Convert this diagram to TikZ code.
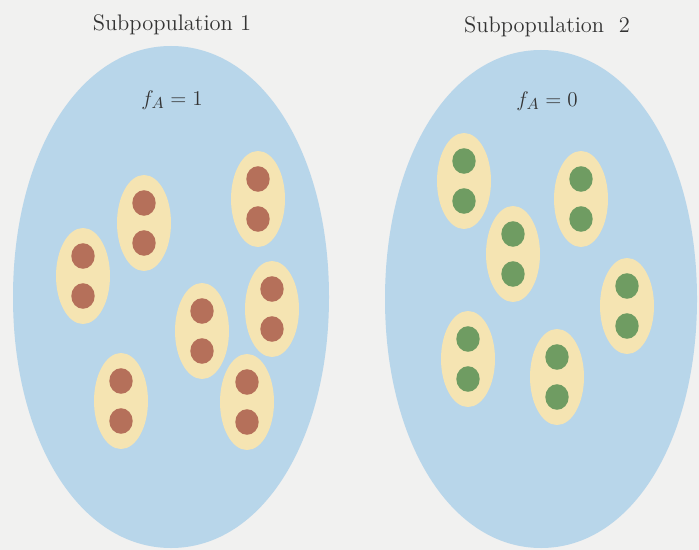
\documentclass[tikz,border=0pt]{standalone}
\definecolor{pagegray}{RGB}{241,241,240}
\definecolor{poolblue}{RGB}{184,214,234}
\definecolor{bodyyellow}{RGB}{245,228,178}
\definecolor{alleleA}{RGB}{181,112,90}
\definecolor{allelea}{RGB}{111,156,98}
\tikzset{
  pool/.style={fill=poolblue},
  indiv/.style={fill=bodyyellow},
  label text/.style={font=\fontsize{12.8}{15}\selectfont, text=black!80},
}
\begin{document}
\begin{tikzpicture}[x=0.02cm,y=-0.02cm]
	\fill[pagegray] (0,0) rectangle (699,550);
	\useasboundingbox (0,0) rectangle (699,550);
	% subpopulations
	\fill[pool] (171,46) .. controls (262,46) and (329,153) .. (329,297)
		.. controls (329,441) and (262,548) .. (171,548)
		.. controls (80,548) and (13,441) .. (13,297)
		.. controls (13,153) and (80,46) .. (171,46) -- cycle;
	\fill[pool] (541,50) .. controls (631,50) and (697,156) .. (697,299)
		.. controls (697,442) and (631,548) .. (541,548)
		.. controls (451,548) and (385,442) .. (385,299)
		.. controls (385,156) and (451,50) .. (541,50) -- cycle;
	\node[label text] (sub1) at (172,25) {Subpopulation 1};
	\node[label text] (sub2) at (547,27) {Subpopulation~ 2};
	\node[label text] (fA1) at (172,100) {$f_A = 1$};
	\node[label text] (fA0) at (547,101) {$f_A = 0$};
	% individuals AA
	\foreach \x/\y in {144/223, 258/199, 83/276, 202/331, 272/309, 121/401, 247/402}{
		\fill[indiv] (\x,\y) ellipse [x radius=27, y radius=48];
		\fill[alleleA] (\x,\y-20) ellipse [x radius=11.7, y radius=12.8];
		\fill[alleleA] (\x,\y+20) ellipse [x radius=11.7, y radius=12.8];
	}
	% individuals aa
	\foreach \x/\y in {464/181, 581/199, 513/254, 627/306, 468/359, 557/377}{
		\fill[indiv] (\x,\y) ellipse [x radius=27, y radius=48];
		\fill[allelea] (\x,\y-20) ellipse [x radius=11.7, y radius=12.8];
		\fill[allelea] (\x,\y+20) ellipse [x radius=11.7, y radius=12.8];
	}
\end{tikzpicture}
\end{document}
